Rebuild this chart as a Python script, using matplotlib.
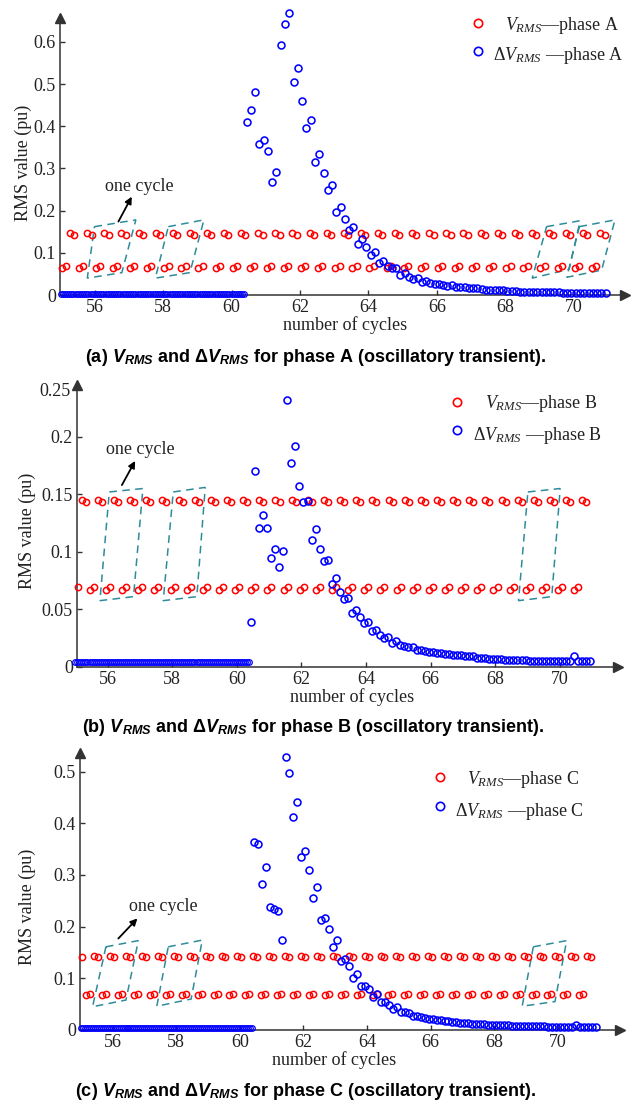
import numpy as np
import matplotlib
matplotlib.use("Agg")
import matplotlib.pyplot as plt
from matplotlib.patches import Polygon

plt.rcParams['font.family'] = ['Liberation Serif', 'DejaVu Serif']
plt.rcParams['mathtext.fontset'] = 'custom'
plt.rcParams['mathtext.rm'] = 'Liberation Serif'
plt.rcParams['mathtext.it'] = 'Liberation Serif:italic'
plt.rcParams['mathtext.bf'] = 'Liberation Sans:bold'
plt.rcParams['mathtext.bfit'] = 'Liberation Sans:italic:bold'

# ---------------- data ----------------
x_ticks = [56, 58, 60, 62, 64, 66, 68, 70]
x_tick_labels = ["56", "58", "60", "62", "64", "66", "68", "70"]

# sampling of the series (cycles)
red_step = 0.125
base_step = 1 / 16
base_start = 55.0
base_count = 87
trans_start = 60.4375

# V_RMS: repeating level pattern (L1, L2, U1, U2) within half a cycle
vrms_pattern_a = [0.065, 0.069, 0.146, 0.143]
vrms_pattern_b = [0.067, 0.069, 0.145, 0.143]
vrms_pattern_c = [0.067, 0.069, 0.144, 0.142]
vrms_start_a, vrms_phase_a, vrms_count_a = 55.03, 0, 128
vrms_start_b, vrms_phase_b, vrms_count_b = 55.07, 1, 127
vrms_start_c, vrms_phase_c, vrms_count_c = 55.05, 3, 129

# Delta V_RMS before the transient (flat)
dv_base_a = 0.003
dv_base_b = 0.004
dv_base_c = 0.003

# Delta V_RMS from the transient onward (one value every 1/8 cycle)
dv_a = [0.411, 0.438, 0.480, 0.358, 0.367, 0.342, 0.268, 0.292, 0.592, 0.642,
        0.669, 0.505, 0.538, 0.460, 0.396, 0.415, 0.314, 0.334, 0.289, 0.249,
        0.260, 0.197, 0.208, 0.179, 0.154, 0.161, 0.122, 0.132, 0.113, 0.095,
        0.102, 0.077, 0.081, 0.069, 0.063, 0.063, 0.047, 0.051, 0.043, 0.037,
        0.040, 0.031, 0.033, 0.029, 0.026, 0.027, 0.024, 0.022, 0.023, 0.020,
        0.019, 0.019, 0.017, 0.016, 0.016, 0.014, 0.013, 0.013, 0.012, 0.011,
        0.011, 0.010, 0.009, 0.009, 0.008, 0.008, 0.008, 0.007, 0.007, 0.007,
        0.006, 0.006, 0.006, 0.006, 0.005, 0.005, 0.005, 0.005, 0.005, 0.005,
        0.005, 0.004, 0.004, 0.004, 0.004]
dv_b = [0.039, 0.170, 0.121, 0.132, 0.121, 0.095, 0.102, 0.087, 0.101, 0.232,
        0.177, 0.192, 0.157, 0.143, 0.144, 0.110, 0.120, 0.102, 0.092, 0.093,
        0.072, 0.077, 0.065, 0.059, 0.060, 0.047, 0.049, 0.043, 0.038, 0.039,
        0.031, 0.032, 0.028, 0.025, 0.026, 0.021, 0.022, 0.019, 0.018, 0.017,
        0.017, 0.015, 0.015, 0.014, 0.013, 0.013, 0.012, 0.012, 0.011, 0.011,
        0.010, 0.010, 0.010, 0.009, 0.009, 0.009, 0.008, 0.008, 0.008, 0.007,
        0.007, 0.007, 0.007, 0.006, 0.006, 0.006, 0.006, 0.006, 0.006, 0.005,
        0.005, 0.005, 0.005, 0.005, 0.005, 0.005, 0.005, 0.005, 0.005, 0.005,
        0.009, 0.005, 0.005, 0.005, 0.005]
dv_c = [0.364, 0.360, 0.282, 0.316, 0.239, 0.234, 0.231, 0.174, 0.529, 0.498,
        0.413, 0.441, 0.335, 0.346, 0.310, 0.255, 0.276, 0.212, 0.217, 0.196,
        0.161, 0.174, 0.134, 0.137, 0.124, 0.101, 0.108, 0.085, 0.086, 0.079,
        0.064, 0.070, 0.054, 0.054, 0.048, 0.040, 0.045, 0.035, 0.035, 0.032,
        0.027, 0.028, 0.025, 0.023, 0.022, 0.021, 0.020, 0.019, 0.018, 0.017,
        0.016, 0.015, 0.014, 0.013, 0.013, 0.012, 0.012, 0.011, 0.011, 0.010,
        0.010, 0.010, 0.009, 0.009, 0.009, 0.008, 0.008, 0.008, 0.008, 0.007,
        0.007, 0.007, 0.007, 0.007, 0.006, 0.006, 0.006, 0.006, 0.006, 0.006,
        0.006, 0.010, 0.006, 0.006, 0.006, 0.006, 0.006]

phases = ["A", "B", "C"]
letters = ["a", "b", "c"]

# ---------------- styling / layout ----------------
W, H = 641, 1104
RED = "#ff0000"
BLUE = "#0000ff"
TEAL = "#2e8b9b"
AXC = "#333333"
DELTA = "\u0394"
DASH = "\u2014"

def fx(px):
    return px / W

def fy(py):
    return 1 - py / H

fig = plt.figure(figsize=(W / 100, H / 100), dpi=100)

panels = [
    dict(box=(60, 18, 625, 295), xlim=(54.982, 71.503), ylim=(0, 0.6564),
         yticks=[0, 0.1, 0.2, 0.3, 0.4, 0.5, 0.6],
         ylabels=["0", "0.1", "0.2", "0.3", "0.4", "0.5", "0.6"],
         pattern=vrms_pattern_a, vstart=vrms_start_a, vphase=vrms_phase_a, vcount=vrms_count_a,
         base=dv_base_a, dv=dv_a,
         ylab_xy=(23, 163), xlab_xy=(345, 325), cap_xy=(316, 357),
         leg=((478, 23), (505, 25), (478, 51), (493, 56)),
         text_xy=(57.29, 0.258), arrow=((56.69, 0.174), (57.08, 0.233)),
         polys=[[(55.99, 0.162), (57.20, 0.178), (56.79, 0.053), (55.78, 0.040)],
                [(58.15, 0.162), (59.19, 0.178), (58.78, 0.053), (57.77, 0.040)],
                [(69.21, 0.162), (70.19, 0.176), (69.87, 0.061), (68.79, 0.040)],
                [(70.17, 0.162), (71.21, 0.178), (70.82, 0.059), (69.80, 0.042)]]),
    dict(box=(77, 385, 618, 666.8), xlim=(55.05, 71.80), ylim=(0, 0.2450),
         yticks=[0, 0.05, 0.1, 0.15, 0.2],
         ylabels=["0", "0.05", "0.1", "0.15", "0.2"],
         pattern=vrms_pattern_b, vstart=vrms_start_b, vphase=vrms_phase_b, vcount=vrms_count_b,
         base=dv_base_b, dv=dv_b,
         ylab_xy=(27, 531), xlab_xy=(352, 697), cap_xy=(313, 727),
         leg=((457, 402), (485, 403), (457, 430), (473, 436)),
         text_xy=(57.00, 0.1885), arrow=((56.44, 0.158), (56.85, 0.179)),
         polys=[[(56.05, 0.152), (57.09, 0.155), (56.80, 0.061), (55.76, 0.0575)],
                [(58.03, 0.152), (59.02, 0.156), (58.76, 0.061), (57.72, 0.0575)],
                [(69.01, 0.152), (70.01, 0.155), (69.75, 0.061), (68.72, 0.0575)]]),
    dict(box=(80, 753, 620, 1030), xlim=(54.975, 71.956), ylim=(0, 0.5361),
         yticks=[0, 0.1, 0.2, 0.3, 0.4, 0.5],
         ylabels=["0", "0.1", "0.2", "0.3", "0.4", "0.5"],
         pattern=vrms_pattern_c, vstart=vrms_start_c, vphase=vrms_phase_c, vcount=vrms_count_c,
         base=dv_base_c, dv=dv_c,
         ylab_xy=(27, 907), xlab_xy=(334, 1060), cap_xy=(306, 1092),
         leg=((440, 777), (467, 779), (440, 806), (455, 811)),
         text_xy=(57.58, 0.239), arrow=((56.18, 0.177), (56.78, 0.216)),
         polys=[[(55.79, 0.161), (56.81, 0.173), (56.42, 0.058), (55.37, 0.045)],
                [(57.75, 0.161), (58.82, 0.174), (58.47, 0.060), (57.39, 0.046)],
                [(69.23, 0.161), (70.28, 0.173), (69.91, 0.055), (68.88, 0.046)]]),
]

for i, p in enumerate(panels):
    l, t, r, b = p["box"]
    ax = fig.add_axes([fx(l), fy(b), (r - l) / W, (b - t) / H])
    ax.set_xlim(*p["xlim"])
    ax.set_ylim(*p["ylim"])
    for s in ["top", "right"]:
        ax.spines[s].set_visible(False)
    for s in ["left", "bottom"]:
        ax.spines[s].set_color(AXC)
        ax.spines[s].set_linewidth(1.1)
    ax.plot([1], [0], marker=">", color=AXC, ms=7, transform=ax.transAxes, clip_on=False)
    ax.plot([0], [1], marker="^", color=AXC, ms=7, transform=ax.transAxes, clip_on=False)
    ax.set_xticks(x_ticks)
    ax.set_xticklabels(x_tick_labels)
    ax.set_yticks(p["yticks"])
    ax.set_yticklabels(p["ylabels"])
    ax.tick_params(direction="in", length=3.5, width=1.0, color=AXC,
                   labelsize=13, labelcolor="#222222", pad=3)
    if i == 1:
        ax.text(-0.012, 0.239, "0.25", transform=ax.get_yaxis_transform(),
                ha="right", va="center", fontsize=13, color="#222222")

    # V_RMS series
    n = p["vcount"]
    vt = p["vstart"] + red_step * np.arange(n)
    pat = p["pattern"]
    vv = [pat[(p["vphase"] + k) % 4] for k in range(n)]
    ax.plot(vt, vv, linestyle="none", marker="o", mfc="none", mec=RED,
            ms=4.5, mew=1.1, clip_on=False, zorder=3)

    # Delta V_RMS series
    bt = base_start + base_step * np.arange(base_count)
    ax.plot(bt, [p["base"]] * base_count, linestyle="none", marker="o", mfc="none",
            mec=BLUE, ms=4.0, mew=0.9, clip_on=False, zorder=4)
    dv = p["dv"]
    tt = trans_start + red_step * np.arange(len(dv))
    ax.plot(tt, dv, linestyle="none", marker="o", mfc="none", mec=BLUE,
            ms=5.0, mew=1.15, clip_on=False, zorder=4)

    # one-cycle annotations
    for poly in p["polys"]:
        ax.add_patch(Polygon(poly, closed=True, fill=False, edgecolor=TEAL,
                             linestyle=(0, (5, 3.5)), linewidth=1.1, zorder=2))
    ax.text(*p["text_xy"], "one cycle", ha="center", va="center", fontsize=13,
            color="#222222")
    (x0, y0), (x1, y1) = p["arrow"]
    ax.annotate("", xy=(x1, y1), xytext=(x0, y0),
                arrowprops=dict(arrowstyle="-|>", color="black", lw=1.3,
                                mutation_scale=10, shrinkA=0, shrinkB=0))

    # axis labels
    fig.text(fx(p["ylab_xy"][0]), fy(p["ylab_xy"][1]), "RMS value (pu)", rotation=90,
             ha="center", va="center", fontsize=13, color="#222222")
    fig.text(fx(p["xlab_xy"][0]), fy(p["xlab_xy"][1]), "number of cycles",
             ha="center", va="center", fontsize=13, color="#222222")

    # legend (manual)
    (mrx, mry), (trx, try_), (mbx, mby), (tbx, tby) = p["leg"]
    fig.lines.append(plt.Line2D([fx(mrx)], [fy(mry)], transform=fig.transFigure,
                                linestyle="none", marker="o", mfc="none", mec=RED,
                                ms=6.0, mew=1.2))
    fig.lines.append(plt.Line2D([fx(mbx)], [fy(mby)], transform=fig.transFigure,
                                linestyle="none", marker="o", mfc="none", mec=BLUE,
                                ms=6.0, mew=1.2))
    fig.text(fx(trx), fy(try_), r"$V_{RMS}$" + DASH + "phase " + phases[i],
             ha="left", va="center", fontsize=13, color="#222222")
    fig.text(fx(tbx), fy(tby), DELTA + r"$V_{RMS}$" + " " + DASH + "phase " + phases[i],
             ha="left", va="center", fontsize=13, color="#222222")

    # caption
    cap = ("(" + letters[i] + r") $\mathbfit{V}_{\mathbfit{RMS}}$ and " + DELTA
           + r"$\mathbfit{V}_{\mathbfit{RMS}}$ for phase " + phases[i]
           + " (oscillatory transient).")
    fig.text(fx(p["cap_xy"][0]), fy(p["cap_xy"][1]), cap, ha="center", va="center",
             fontsize=13, fontweight="bold", family="Liberation Sans", color="black")

fig.savefig("out.png", dpi=100)
